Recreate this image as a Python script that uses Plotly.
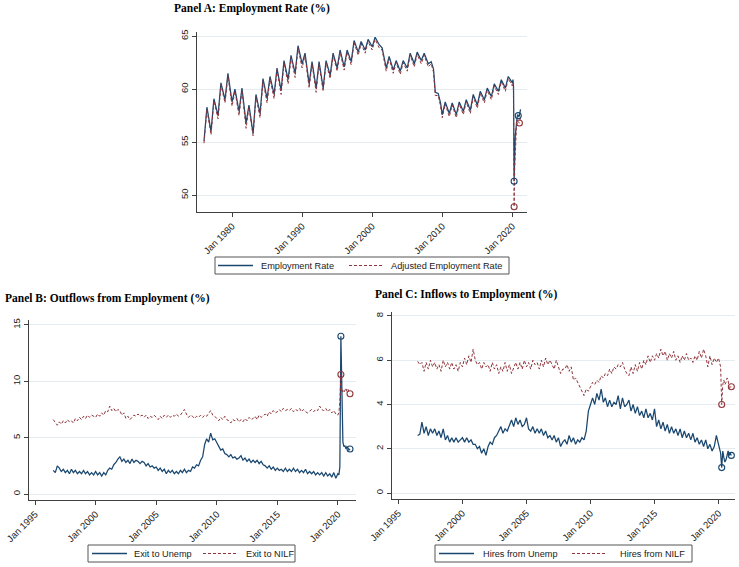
import pandas as pd
import plotly.graph_objects as go

# ---------------- Panel A: Employment rate (%) ----------------
# semiannual (Jan, Jun) readings 1976-2019, extra Oct points in 2008/2009, then monthly 2020-01..2021-03
A_years = list(range(1976, 2020))
A_extra_oct = [2008, 2009]
A_emp = [
    55.1, 58.3,  56.0, 59.1,  57.5, 60.6,  59.0, 61.5,   # 1976-79
    58.8, 60.0,  57.9, 60.1,  56.8, 58.5,  55.8, 59.5,   # 1980-83
    57.7, 61.0,  59.1, 61.2,  59.5, 62.0,  59.9, 62.7,   # 1984-87
    60.9, 63.2,  61.5, 64.1,  62.4, 63.4,  60.5, 62.6,   # 1988-91
    60.1, 62.6,  60.1, 62.7,  61.3, 63.4,  62.0, 63.7,   # 1992-95
    62.1, 63.7,  62.6, 64.6,  63.5, 64.5,  63.7, 64.7,   # 1996-99
    64.0, 64.9,  64.2, 63.9,  62.0, 63.1,  61.8, 62.7,   # 2000-03
    61.7, 62.7,  62.0, 63.4,  62.4, 63.5,  62.7, 63.4,   # 2004-07
    62.4, 62.6, 61.9,  59.7, 59.6, 58.7,                 # 2008-09
    57.6, 58.8,  57.7, 58.7,  57.6, 58.8,  57.9, 59.0,   # 2010-13
    58.0, 59.5,  58.5, 59.8,  59.0, 60.1,  59.3, 60.5,   # 2014-17
    59.8, 60.9,  60.1, 61.2,                             # 2018-19
    60.6, 60.9, 60.2, 51.3, 53.8, 55.6, 56.4, 57.1, 57.3, 57.6, 57.5, 57.4,  # 2020
    57.5, 57.8, 58.1,                                    # 2021
]
A_adj = [
    54.9, 58.1,  55.7, 58.9,  57.2, 60.4,  58.7, 61.3,
    58.4, 59.8,  57.5, 59.9,  56.3, 58.3,  55.6, 59.3,
    57.3, 60.8,  58.7, 61.0,  59.1, 61.8,  59.5, 62.5,
    60.5, 63.0,  61.1, 63.9,  62.0, 63.2,  60.1, 62.4,
    59.7, 62.4,  59.8, 62.5,  61.0, 63.2,  61.7, 63.5,
    61.8, 63.5,  62.3, 64.4,  63.2, 64.3,  63.4, 64.5,
    63.7, 64.7,  63.9, 63.7,  61.7, 62.9,  61.5, 62.5,
    61.4, 62.5,  61.7, 63.2,  62.1, 63.3,  62.4, 63.2,
    62.1, 62.4, 61.6,  59.4, 59.4, 58.4,
    57.3, 58.6,  57.4, 58.5,  57.3, 58.6,  57.6, 58.8,
    57.7, 59.3,  58.2, 59.6,  58.7, 59.9,  59.0, 60.3,
    59.5, 60.7,  59.8, 61.0,
    60.3, 60.6, 59.8, 48.9, 52.5, 54.8, 55.8, 56.5, 56.7, 57.0, 56.9, 56.8,
    56.8, 57.1, 57.4,
]
A_emp_marks = ["2020-04-01", "2020-11-01"]
A_adj_marks = ["2020-04-01", "2021-01-01"]
A_ticks = ["1980-01-01", "1990-01-01", "2000-01-01", "2010-01-01", "2020-01-01"]
A_ticktext = ["Jan 1980", "Jan 1990", "Jan 2000", "Jan 2010", "Jan 2020"]

# ---------------- Panels B & C: bimonthly 1996-07..2020-01, monthly 2020-02..2021-01 ----------------
B_exit_unemp = [
    2.1, 1.9, 2.5,
    2.3, 2.0, 2.2, 1.9, 2.1, 1.8,   # 1997
    2.2, 1.9, 2.1, 1.8, 2.0, 1.8,   # 1998
    2.1, 1.8, 2.0, 1.7, 1.9, 1.7,   # 1999
    2.0, 1.7, 1.9, 1.6, 1.9, 1.7,   # 2000
    2.1, 2.3, 2.2, 2.6, 2.8, 3.1,   # 2001
    3.3, 2.9, 3.1, 2.8, 3.0, 2.7,   # 2002
    3.1, 2.8, 3.0, 2.9, 2.7, 2.9,   # 2003
    2.8, 2.5, 2.7, 2.4, 2.5, 2.3,   # 2004
    2.4, 2.1, 2.3, 2.0, 2.2, 1.8,   # 2005
    2.1, 1.9, 2.1, 1.8, 2.0, 1.8,   # 2006
    2.1, 1.9, 2.2, 1.9, 2.1, 2.0,   # 2007
    2.4, 2.3, 2.6, 2.5, 3.0, 3.3,   # 2008
    4.4, 4.9, 4.6, 5.4, 4.8, 4.9,   # 2009
    4.6, 4.3, 3.9, 4.0, 3.6, 3.5,   # 2010
    3.3, 3.5, 3.2, 3.3, 3.1, 3.2,   # 2011
    3.4, 3.0, 3.2, 2.9, 3.1, 2.8,   # 2012
    3.0, 2.8, 3.0, 2.7, 2.9, 2.6,   # 2013
    2.5, 2.3, 2.5, 2.2, 2.4, 2.1,   # 2014
    2.3, 2.1, 2.2, 2.0, 2.3, 2.0,   # 2015
    2.2, 2.0, 2.3, 2.0, 2.2, 1.9,   # 2016
    2.1, 1.9, 2.2, 1.8, 2.0, 1.8,   # 2017
    2.0, 1.7, 1.9, 1.7, 1.9, 1.6,   # 2018
    1.9, 1.6, 1.8, 1.5, 1.9, 1.4,   # 2019
    1.8,
    1.7, 2.4, 14.0, 8.5, 4.6, 4.2, 4.3, 4.0, 4.2, 4.1, 3.9, 4.0,
]
B_exit_nilf = [
    6.6, 6.3, 6.1,
    6.4, 6.2, 6.5, 6.3, 6.6, 6.4,
    6.5, 6.3, 6.7, 6.5, 6.8, 6.6,
    6.9, 6.7, 7.0, 6.8, 7.0, 6.9,
    6.8, 7.1, 6.9, 7.2, 7.0, 7.4,
    7.3, 7.8, 7.4, 7.6, 7.3, 7.5,
    7.4, 7.0, 7.2, 6.7, 6.9, 6.6,
    6.8, 7.0, 6.9, 7.1, 6.9, 7.0,
    6.8, 7.0, 6.7, 6.9, 6.8, 7.0,
    6.8, 6.6, 6.9, 6.7, 7.0, 6.8,
    7.0, 6.8, 7.0, 6.9, 7.1, 6.9,
    7.0, 7.2, 7.5, 7.1, 6.8, 7.0,
    6.9, 6.7, 6.9, 6.8, 7.0, 6.8,
    7.0, 6.9, 7.1, 7.4, 7.0, 6.9,
    6.7, 6.5, 6.8, 6.6, 6.9, 6.6,
    6.5, 6.3, 6.6, 6.5, 6.7, 6.4,
    6.6, 6.4, 6.7, 6.5, 6.8, 6.6,
    6.7, 6.9, 6.6, 7.0, 6.8, 7.0,
    7.1, 6.9, 7.3, 7.1, 7.4, 7.2,
    7.3, 7.5, 7.3, 7.6, 7.4, 7.5,
    7.4, 7.6, 7.3, 7.5, 7.4, 7.6,
    7.3, 7.5, 7.3, 7.2, 7.4, 7.5,
    7.3, 7.5, 7.4, 7.8, 7.5, 7.4,
    7.6, 7.3, 7.5, 7.2, 7.4, 7.1,
    7.0,
    7.2, 8.2, 10.6, 9.0, 9.2, 9.0, 9.3, 9.4, 9.1, 9.3, 9.0, 8.9,
]
C_hire_unemp = [
    2.6, 2.65, 3.2,
    2.7, 3.0, 2.6, 2.9, 2.7, 2.9,
    2.6, 2.8, 2.5, 2.9, 2.4, 2.6,
    2.3, 2.5, 2.3, 2.5, 2.3, 2.4,
    2.5, 2.3, 2.5, 2.3, 2.4, 2.2,
    2.2, 2.0, 2.1, 1.8, 2.0, 1.7,
    2.1, 2.3, 2.2, 2.5, 2.6, 2.8,
    3.0, 2.7, 2.9, 2.8, 3.1, 3.3,
    3.0, 3.4, 3.1, 3.3, 3.0, 3.1,
    3.4, 2.9, 2.8, 3.0, 2.7, 2.9,
    2.7, 2.9, 2.6, 2.8, 2.5, 2.6,
    2.4, 2.6, 2.3, 2.5, 2.1, 2.3,
    2.4, 2.2, 2.6, 2.3, 2.5, 2.2,
    2.4, 2.3, 2.5, 2.4, 2.8, 3.7,
    4.0, 4.3, 4.0, 4.5, 4.2, 4.7,
    4.1, 4.3, 3.9, 4.2, 3.9, 4.1,
    4.0, 4.4, 3.8, 4.3, 3.9, 4.0,
    4.2, 3.7, 4.0, 3.6, 3.9, 3.5,
    3.7, 3.4, 3.8, 3.4, 3.6, 3.3,
    3.8, 3.0, 3.3, 2.9, 3.2, 2.8,
    3.1, 2.7, 3.0, 2.7, 2.9, 2.6,
    2.9, 2.5, 2.8, 2.5, 2.7, 2.4,
    2.7, 2.3, 2.5, 2.2, 2.4, 2.1,
    2.4, 2.0, 2.2, 1.9, 2.1, 2.6,
    2.2,
    2.0, 1.8, 1.15, 1.9, 1.6, 1.4, 1.5, 1.8, 1.9, 1.7, 1.8, 1.7,
]
C_hire_nilf = [
    5.95, 5.8, 5.9,
    5.5, 5.9, 5.6, 6.0, 5.7, 5.9,
    5.6, 5.8, 5.5, 6.0, 5.7, 5.9,
    5.6, 5.9, 5.6, 5.8, 5.5, 5.9,
    5.7, 6.1, 5.8, 6.2, 5.9, 6.5,
    6.0, 5.8, 5.9, 5.6, 5.9, 5.7,
    5.8, 5.5, 5.9, 5.6, 5.8, 5.4,
    5.7, 5.5, 5.9, 5.5, 5.8, 5.4,
    5.7, 5.9, 5.6, 5.9, 5.6, 6.0,
    5.7, 5.9, 5.6, 6.0, 5.8, 5.9,
    5.6, 6.0, 5.7, 6.1, 5.8, 6.0,
    5.8, 5.6, 6.0, 5.7, 5.4, 5.6,
    5.6, 5.8, 5.5, 5.7, 5.1, 5.2,
    5.0, 4.8, 4.6, 4.4, 4.7, 4.6,
    4.8, 5.0, 4.9, 5.1, 5.0, 5.3,
    5.2, 5.4, 5.3, 5.6, 5.4, 5.7,
    5.6, 5.8, 5.7, 5.9, 5.6, 5.4,
    5.3, 5.7, 5.4, 5.8, 5.5, 5.9,
    5.6, 6.0, 5.8, 6.2, 5.9, 6.2,
    6.0, 6.3, 6.1, 6.5, 6.2, 6.4,
    6.0, 6.3, 6.1, 6.4, 6.0, 6.2,
    5.9, 6.2, 6.0, 6.3, 6.0, 6.1,
    5.9, 6.2, 6.0, 6.4, 6.1, 6.5,
    6.2, 5.7, 6.2, 5.8, 6.1, 5.9,
    6.1,
    5.9, 5.7, 4.0, 4.9, 5.1, 4.9, 5.0, 5.2, 5.1, 4.7, 4.8, 4.8,
]
BC_marks = ["2020-04-01", "2021-01-01"]
BC_ticks = ["1995-01-01", "2000-01-01", "2005-01-01", "2010-01-01", "2015-01-01", "2020-01-01"]
BC_ticktext = ["Jan 1995", "Jan 2000", "Jan 2005", "Jan 2010", "Jan 2015", "Jan 2020"]

# ---------------- dates ----------------
A_dates = []
for y in A_years:
    A_dates += [f"{y}-01-01", f"{y}-06-01"]
    if y in A_extra_oct:
        A_dates.append(f"{y}-10-01")
A_dates += [d.strftime("%Y-%m-%d") for d in pd.date_range("2020-01-01", "2021-03-01", freq="MS")]
BC_dates = [d.strftime("%Y-%m-%d") for d in pd.date_range("1996-07-01", "2020-01-01", freq="2MS")]
BC_dates += [d.strftime("%Y-%m-%d") for d in pd.date_range("2020-02-01", "2021-01-01", freq="MS")]

for arr in (A_emp, A_adj):
    assert len(arr) == len(A_dates), (len(arr), len(A_dates))
for arr in (B_exit_unemp, B_exit_nilf, C_hire_unemp, C_hire_nilf):
    assert len(arr) == len(BC_dates), (len(arr), len(BC_dates))

NAVY = "#1a476f"
MAROON = "#90353b"
AXC = "#404040"
GRID = "#e4ecef"
SANS = "Liberation Sans, Arial, sans-serif"
TICKFONT = dict(family=SANS, size=9.5, color="#222222")
DASH = "3px,2px"

W, H = 739, 567


def fx(px):
    return px / W


def fy(py):
    return 1 - py / H


fig = go.Figure()


def add_pair(xs, y1, y2, xa, ya, marks1, marks2):
    s1 = pd.Series(y1, index=xs)
    s2 = pd.Series(y2, index=xs)
    fig.add_trace(go.Scatter(x=xs, y=y1, mode="lines", xaxis=xa, yaxis=ya,
                             line=dict(color=NAVY, width=1.25)))
    fig.add_trace(go.Scatter(x=xs, y=y2, mode="lines", xaxis=xa, yaxis=ya,
                             line=dict(color=MAROON, width=1.0, dash=DASH)))
    fig.add_trace(go.Scatter(x=marks1, y=[s1[d] for d in marks1], mode="markers",
                             xaxis=xa, yaxis=ya, hoverinfo="skip",
                             marker=dict(symbol="circle-open", size=6, color=NAVY, line=dict(width=1.1))))
    fig.add_trace(go.Scatter(x=marks2, y=[s2[d] for d in marks2], mode="markers",
                             xaxis=xa, yaxis=ya, hoverinfo="skip",
                             marker=dict(symbol="circle-open", size=6, color=MAROON, line=dict(width=1.1))))


add_pair(A_dates, A_emp, A_adj, "x", "y", A_emp_marks, A_adj_marks)
add_pair(BC_dates, B_exit_unemp, B_exit_nilf, "x2", "y2", BC_marks, BC_marks)
add_pair(BC_dates, C_hire_unemp, C_hire_nilf, "x3", "y3", BC_marks, BC_marks)

xcommon = dict(type="date", showline=True, linecolor=AXC, linewidth=1, ticks="outside", ticklen=4,
               tickcolor=AXC, tickfont=TICKFONT, tickangle=-45, showgrid=False, zeroline=False,
               automargin=False)
ycommon = dict(showline=True, linecolor=AXC, linewidth=1, ticks="outside", ticklen=4, tickcolor=AXC,
               tickfont=TICKFONT, tickangle=-90, showgrid=True, gridcolor=GRID, gridwidth=1,
               zeroline=False, automargin=False)

fig.update_layout(
    width=W, height=H, margin=dict(l=0, r=0, t=0, b=0), autosize=False,
    paper_bgcolor="white", plot_bgcolor="white", showlegend=False,
    xaxis=dict(xcommon, domain=[fx(197), fx(527)], anchor="y",
               range=["1975-01-01", "2022-02-01"], tickvals=A_ticks, ticktext=A_ticktext),
    yaxis=dict(ycommon, domain=[fy(212), fy(32)], anchor="x", range=[48.4, 65.4],
               tickvals=[50, 55, 60, 65]),
    xaxis2=dict(xcommon, domain=[fx(29), fx(356)], anchor="y2",
                range=["1994-07-01", "2021-07-01"], tickvals=BC_ticks, ticktext=BC_ticktext),
    yaxis2=dict(ycommon, domain=[fy(500), fy(320)], anchor="x2", range=[-0.53, 15.44],
                tickvals=[0, 5, 10, 15]),
    xaxis3=dict(xcommon, domain=[fx(392), fx(735)], anchor="y3",
                range=["1994-07-01", "2021-04-15"], tickvals=BC_ticks, ticktext=BC_ticktext),
    yaxis3=dict(ycommon, domain=[fy(499), fy(312)], anchor="x3", range=[-0.27, 8.18],
                tickvals=[0, 2, 4, 6, 8]),
)

# ---- titles ----
TITLEFONT = dict(family="Liberation Serif, Times New Roman, serif", size=11.5, color="black")
for txt, px, py in [("Panel A: Employment Rate (%)", 172, 8),
                    ("Panel B: Outflows from Employment (%)", 3, 298),
                    ("Panel C: Inflows to Employment (%)", 373, 294)]:
    fig.add_annotation(text=f"<b>{txt}</b>", x=fx(px), y=fy(py), xref="paper", yref="paper",
                       xanchor="left", yanchor="middle", showarrow=False, font=TITLEFONT)

# ---- Stata-style legends (box, key lines, labels) ----
legends = [
    # box x0, x1, y0, y1, [(key_x0, key_x1, text_x, label, color, dash)]
    (215, 509, 257, 274, [(218, 253, 259, "Employment Rate", NAVY, "solid"),
                          (349, 383, 389, "Adjusted Employment Rate", MAROON, DASH)]),
    (88, 295, 545, 562, [(92, 127, 132, "Exit to Unemp", NAVY, "solid"),
                         (203, 238, 244, "Exit to NILF", MAROON, DASH)]),
    (435, 692, 545, 562, [(439, 474, 481, "Hires from Unemp", NAVY, "solid"),
                          (572, 607, 618, "Hires from NILF", MAROON, DASH)]),
]
for bx0, bx1, by0, by1, items in legends:
    fig.add_shape(type="rect", xref="paper", yref="paper", x0=fx(bx0), x1=fx(bx1), y0=fy(by1), y1=fy(by0),
                  line=dict(color="#555555", width=1), fillcolor="white", layer="above")
    yc = (by0 + by1) / 2
    for kx0, kx1, tx, label, col, dash in items:
        fig.add_shape(type="line", xref="paper", yref="paper", x0=fx(kx0), x1=fx(kx1), y0=fy(yc), y1=fy(yc),
                      line=dict(color=col, width=1.3 if dash == "solid" else 1.1, dash=dash), layer="above")
        fig.add_annotation(text=label, x=fx(tx), y=fy(yc), xref="paper", yref="paper", xanchor="left",
                           yanchor="middle", showarrow=False,
                           font=dict(family=SANS, size=9.2, color="#222222"))

fig.write_html("out.html", config={"displayModeBar": False},
               post_script="document.body.style.margin='0';document.body.style.overflow='hidden';")
